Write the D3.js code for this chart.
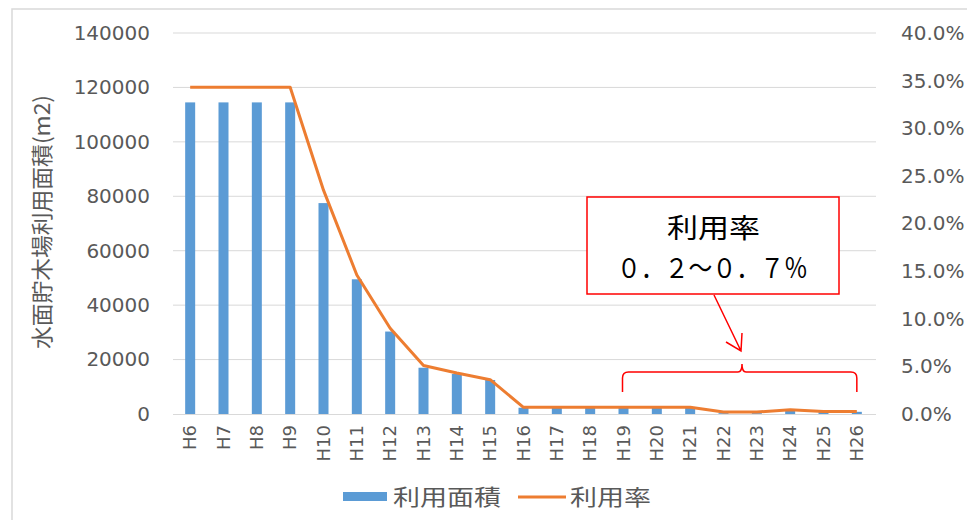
<!DOCTYPE html>
<html>
<head>
<meta charset="utf-8">
<script src="https://cdn.jsdelivr.net/npm/d3@7"></script>
<style>
body{margin:0;background:#fff;}
text{font-family:"Noto Sans CJK JP","Noto Sans",sans-serif;}
</style>
</head>
<body>
<svg width="967" height="520"></svg>
<script>
// data
const years = ["H6","H7","H8","H9","H10","H11","H12","H13","H14","H15","H16","H17","H18","H19","H20","H21","H22","H23","H24","H25","H26"];
const area = [114500,114500,114500,114500,77500,49500,30300,17000,14700,12500,2300,2300,2300,2300,2300,2300,300,300,1500,700,800];
const rate = [0.343,0.343,0.343,0.343,0.235,0.146,0.090,0.051,0.043,0.036,0.007,0.007,0.007,0.007,0.007,0.007,0.002,0.002,0.0045,0.0025,0.0025];
const areaTicks = [0,20000,40000,60000,80000,100000,120000,140000];
const rateTicks = [0,0.05,0.10,0.15,0.20,0.25,0.30,0.35,0.40];

const svg = d3.select("svg");
const blue = "#5B9BD5", orange = "#ED7D31", grey = "#595959";
const numFont = "'DejaVu Sans',sans-serif";

// chart frame
svg.append("rect").attr("x",12).attr("y",9).attr("width",970).attr("height",530)
  .attr("fill","none").attr("stroke","#d9d9d9").attr("stroke-width",1.5);

let x = d3.scaleBand().domain(years).range([173.5,873.5]).paddingInner(0.7).paddingOuter(0.35);
let y = d3.scaleLinear().domain([0,140000]).range([414,33]);
let y2 = d3.scaleLinear().domain([0,0.4]).range([414,33]);

// gridlines
svg.append("g").selectAll("line").data(areaTicks.slice(1)).enter().append("line")
  .attr("x1",173).attr("x2",876)
  .attr("y1",d=>y(d)).attr("y2",d=>y(d))
  .attr("stroke","#d9d9d9").attr("stroke-width",1);

// left axis
let yAxis = svg.append("g").attr("transform","translate(160,0)")
  .call(d3.axisLeft(y).tickValues(areaTicks).tickSize(0).tickPadding(10).tickFormat(d3.format("d")));
yAxis.select(".domain").remove();
yAxis.selectAll("text").attr("fill",grey).attr("font-size",20).style("font-family",numFont);

// right axis
let y2Axis = svg.append("g").attr("transform","translate(890,0)")
  .call(d3.axisRight(y2).tickValues(rateTicks).tickSize(0).tickPadding(11).tickFormat(d3.format(".1%")));
y2Axis.select(".domain").remove();
y2Axis.selectAll("text").attr("fill",grey).attr("font-size",20).style("font-family",numFont);

// bars
svg.append("g").selectAll("rect").data(area).enter().append("rect")
  .attr("x",(d,i)=>x(years[i]))
  .attr("y",d=>y(d))
  .attr("width",x.bandwidth())
  .attr("height",d=>y(0)-y(d))
  .attr("fill",blue);

// baseline
svg.append("line").attr("x1",173).attr("x2",876).attr("y1",414.5).attr("y2",414.5)
  .attr("stroke","#d9d9d9").attr("stroke-width",1.2);

// rate line
let line = d3.line().x((d,i)=>x(years[i])+x.bandwidth()/2).y(d=>y2(d));
svg.append("path").datum(rate).attr("d",line)
  .attr("fill","none").attr("stroke",orange).attr("stroke-width",3).attr("stroke-linejoin","round");

// x labels
let xAxis = svg.append("g").attr("transform","translate(0,414)")
  .call(d3.axisBottom(x).tickSize(0).tickPadding(0));
xAxis.select(".domain").remove();
xAxis.selectAll("text")
  .attr("transform","rotate(-90)")
  .attr("x",-11).attr("y",0).attr("dy","0.35em")
  .style("text-anchor","end")
  .attr("fill",grey).attr("font-size",18).style("font-family",numFont);

// y title
svg.append("text").attr("transform","translate(50,222) rotate(-90)")
  .attr("text-anchor","middle").attr("fill",grey).attr("font-size",22)
  .attr("textLength",254).attr("lengthAdjust","spacingAndGlyphs")
  .text("水面貯木場利用面積(m2)");

// legend
svg.append("rect").attr("x",343).attr("y",492).attr("width",44).attr("height",9).attr("fill",blue);
svg.append("text").attr("x",393).attr("y",505).attr("fill",grey).attr("font-size",22)
  .attr("textLength",108).attr("lengthAdjust","spacingAndGlyphs").text("利用面積");
svg.append("line").attr("x1",518).attr("x2",566).attr("y1",497).attr("y2",497).attr("stroke",orange).attr("stroke-width",3);
svg.append("text").attr("x",570).attr("y",505).attr("fill",grey).attr("font-size",22)
  .attr("textLength",81).attr("lengthAdjust","spacingAndGlyphs").text("利用率");

// annotation
let note = svg.append("g");
note.append("rect").attr("x",587).attr("y",197).attr("width",252).attr("height",97)
  .attr("fill","#fff").attr("stroke","red").attr("stroke-width",1.5);
note.append("text").attr("x",667).attr("y",238).attr("font-size",27).attr("fill","#000")
  .attr("textLength",93).attr("lengthAdjust","spacingAndGlyphs").text("利用率");
note.append("text").attr("x",617).attr("y",278).attr("font-size",27).attr("fill","#000")
  .attr("textLength",191).attr("lengthAdjust","spacingAndGlyphs").text("０．２～０．７％");
note.append("path").attr("d","M714,295 L741,351 M726,342 L741,351 L742,333")
  .attr("fill","none").attr("stroke","red").attr("stroke-width",1.5);
let bx0 = x("H19")+x.bandwidth()/2-1, bx1 = x("H26")+x.bandwidth()/2, bm = 742;
note.append("path")
  .attr("d",`M${bx0},392 L${bx0},378 Q${bx0},372 ${bx0+6},372 L${bm-4},372 Q${bm},372 ${bm},364 Q${bm},372 ${bm+4},372 L${bx1-6},372 Q${bx1},372 ${bx1},378 L${bx1},392`)
  .attr("fill","none").attr("stroke","red").attr("stroke-width",1.5);
</script>
</body>
</html>
